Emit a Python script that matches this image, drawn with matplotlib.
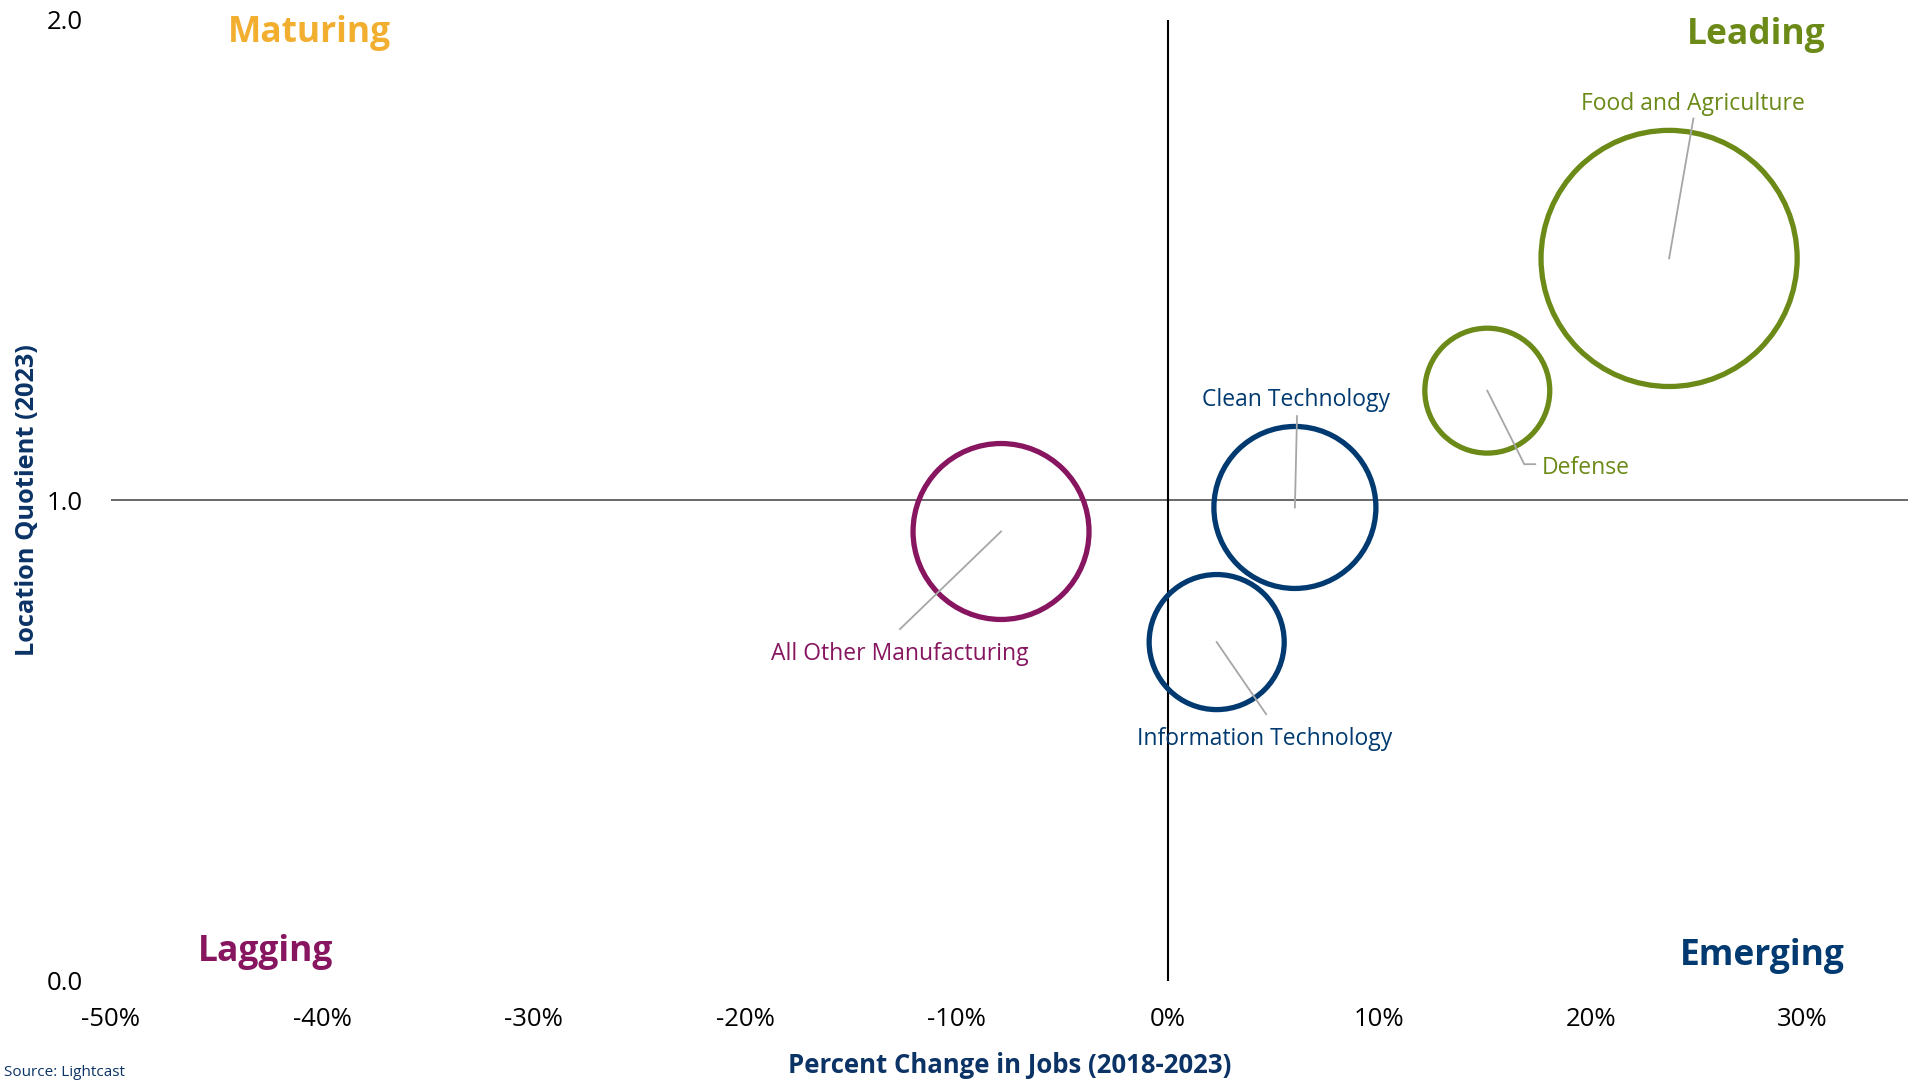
import matplotlib
matplotlib.use("Agg")
import matplotlib.pyplot as plt

plt.rcParams['font.family'] = ['Open Sans', 'DejaVu Sans']

# ---- data ----
clusters = ["Food and Agriculture", "Defense", "Clean Technology",
            "Information Technology", "All Other Manufacturing"]
pct_change = [23.7, 15.1, 6.0, 2.3, -7.9]          # % change in jobs 2018-2023
location_quotient = [1.503, 1.228, 0.985, 0.705, 0.935]
bubble_size = [16400, 3900, 6560, 4560, 7740]     # relative bubble area
cluster_colors = ["#6B8A17", "#6B8A17", "#003A70", "#003A70", "#87155F"]

# leader line end points / label anchor points (data coords)
leader_end_x = [24.85, 16.85, 6.1, 4.64, -12.68]
leader_end_y = [1.794, 1.075, 1.175, 0.555, 0.732]
label_x = [24.85, 17.7, 6.06, 4.59, -12.68]
label_y = [1.824, 1.067, 1.208, 0.503, 0.680]
label_ha = ["center", "left", "center", "center", "center"]

quadrants = ["Maturing", "Leading", "Lagging", "Emerging"]
quad_x = [-40.6, 27.8, -42.7, 28.1]
quad_y = [1.972, 1.968, 0.060, 0.051]
quad_colors = ["#F2AE2E", "#6B8A17", "#87155F", "#003A70"]

x_ticks = [-50, -40, -30, -20, -10, 0, 10, 20, 30]
x_tick_labels = ["-50%", "-40%", "-30%", "-20%", "-10%", "0%", "10%", "20%", "30%"]
y_ticks = [0.0, 1.0, 2.0]
y_tick_labels = ["0.0", "1.0", "2.0"]

navy = "#0B3366"

fig = plt.figure(figsize=(19.15, 10.81), dpi=100)
ax = fig.add_axes([0.05796, 0.09251, 0.99634 - 0.05796, 0.98196 - 0.09251])
ax.set_xlim(-50, 35)
ax.set_ylim(0, 2)

for s in ax.spines.values():
    s.set_visible(False)

# quadrant dividing lines
ax.axhline(1.0, color="#404040", lw=1.1, zorder=1)
ax.axvline(0.0, color="black", lw=1.5, zorder=1)

# bubbles
scale = (2 * 0.72) ** 2
ax.scatter(pct_change, location_quotient, s=[b * scale for b in bubble_size],
           facecolors="none", edgecolors=cluster_colors, linewidths=3.8, zorder=2)

# leader lines and labels
for i, name in enumerate(clusters):
    if name == "Defense":
        xs = [pct_change[i], leader_end_x[i], 17.37]
        ys = [location_quotient[i], leader_end_y[i], leader_end_y[i]]
    else:
        xs = [pct_change[i], leader_end_x[i]]
        ys = [location_quotient[i], leader_end_y[i]]
    ax.plot(xs, ys, color="#A6A6A6", lw=1.3, zorder=3)
    ax.text(label_x[i], label_y[i], name, color=cluster_colors[i], fontsize=16.5,
            ha=label_ha[i], va="center", zorder=4)

for q, qx, qy, qc in zip(quadrants, quad_x, quad_y, quad_colors):
    ax.text(qx, qy, q, color=qc, fontsize=25.5, fontweight="bold",
            ha="center", va="center")

ax.set_xticks(x_ticks)
ax.set_xticklabels(x_tick_labels)
ax.set_yticks(y_ticks)
ax.set_yticklabels(y_tick_labels)
ax.tick_params(axis="both", length=0, labelsize=18.5, colors="black")
ax.tick_params(axis="x", pad=19)
ax.tick_params(axis="y", pad=20)

ax.set_xlabel("Percent Change in Jobs (2018-2023)", fontsize=18.5,
              fontweight="bold", color=navy, labelpad=14)
ax.set_ylabel("Location Quotient (2023)", fontsize=18.3,
              fontweight="bold", color=navy, labelpad=5)

fig.text(0.002, 0.001, "Source: Lightcast", color=navy, fontsize=11,
         ha="left", va="bottom")

fig.savefig("out.png", dpi=100)
